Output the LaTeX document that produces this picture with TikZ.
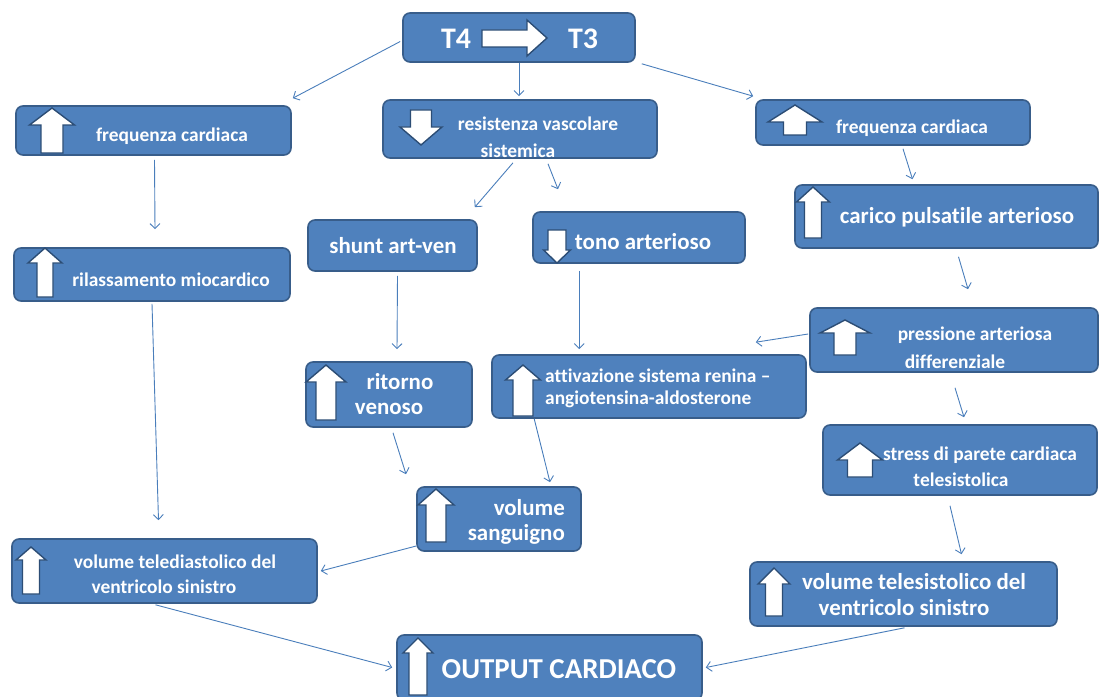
\documentclass[tikz,border=0pt]{standalone}
\usepackage{fontspec}
\setmainfont{Carlito}[Ligatures={NoCommon}]
\usetikzlibrary{arrows.meta,calc,fit}
\definecolor{boxblue}{HTML}{4F81BD}
\definecolor{boxedge}{HTML}{385D8A}
\definecolor{iconedge}{HTML}{2C4D75}
\definecolor{lineblue}{HTML}{4A7EBB}
\tikzset{
  box/.style={draw=boxedge, fill=boxblue, line width=1.6bp, rounded corners=7bp, inner sep=0pt},
  lbl/.style={text=white, font=\bfseries, inner sep=0pt},
  icon/.style={draw=iconedge, fill=white, line width=1.4bp, line join=miter},
  conn/.style={draw=lineblue, line width=0.9bp, -{Straight Barb[length=5bp,width=10bp]}},
}
% up arrow: cx, top, headbase, bottom, headwidth, shaftwidth
\newcommand\UpIcon[6]{\draw[icon] ({#1-#6/2},#4) -- ({#1-#6/2},#3) -- ({#1-#5/2},#3) -- (#1,#2) -- ({#1+#5/2},#3) -- ({#1+#6/2},#3) -- ({#1+#6/2},#4) -- cycle;}
% down arrow: cx, top, headbase, tip, headwidth, shaftwidth
\newcommand\DownIcon[6]{\draw[icon] ({#1-#6/2},#2) -- ({#1-#6/2},#3) -- ({#1-#5/2},#3) -- (#1,#4) -- ({#1+#5/2},#3) -- ({#1+#6/2},#3) -- ({#1+#6/2},#2) -- cycle;}
\newcommand\fs[1]{\fontsize{#1}{#1}\selectfont}
\tikzset{
  small/.style={lbl, font=\bfseries\fs{19.5}},
  large/.style={lbl, font=\bfseries\fs{23}},
}
\begin{document}
\begin{tikzpicture}[x=1bp,y=-1bp]
\useasboundingbox (0,0) rectangle (1101,697);
% boxes
\node[box, fit={(403,13) (635,62)}] (t4) {};
\node[box, fit={(16,106) (291,155)}] (fl) {};
\node[box, fit={(383,100) (657,158)}] (rv) {};
\node[box, fit={(756,100) (1030,145)}] (fr) {};
\node[box, fit={(795,185) (1098,248)}] (cp) {};
\node[box, fit={(308,220) (477,271)}] (sh) {};
\node[box, fit={(533,212) (745,263)}] (to) {};
\node[box, fit={(14,248) (290,301)}] (ri) {};
\node[box, fit={(810,308) (1098,372)}] (pa) {};
\node[box, fit={(306,362) (472,427)}] (rt) {};
\node[box, fit={(492,355) (806,418)}] (at) {};
\node[box, fit={(823,425) (1097,495)}] (st) {};
\node[box, fit={(417,487) (581,551)}] (vs) {};
\node[box, fit={(12,539) (317,603)}] (td) {};
\node[box, fit={(750,562) (1057,626)}] (ts) {};
\node[box, fit={(397,635) (702,700)}] (oc) {};
% icons
\draw[icon] (482,30) -- (527,30) -- (527,20) -- (547,38) -- (527,56) -- (527,47) -- (482,47) -- cycle;
\UpIcon{52}{108}{125}{153}{45}{22}
\DownIcon{421}{110}{127}{145}{42}{21}
\UpIcon{795}{105}{122}{135}{54}{23}
\UpIcon{813}{187}{202}{238}{33}{17}
\DownIcon{557}{230}{250}{263}{27}{18}
\UpIcon{45}{248}{263}{297}{34}{16}
\UpIcon{845}{320}{333}{355}{50}{22}
\UpIcon{326}{365}{382}{420}{40}{20}
\UpIcon{523}{365}{380}{416}{35}{20}
\UpIcon{860}{443}{460}{477}{45}{25}
\UpIcon{436}{489}{505}{542}{36}{20}
\UpIcon{31}{547}{560}{594}{30}{17}
\UpIcon{774}{568}{584}{616}{32}{17}
\UpIcon{418}{638}{653}{695}{30}{18}
% labels
\node[lbl, font=\bfseries\fs{30}] (t4a) at (456,39) {T4};
\node[lbl, font=\bfseries\fs{30}] (t4b) at (583,39) {T3};
\node[small] (fla) at (172,136) {frequenza cardiaca};
\node[small] (rva) at (538,124) {resistenza vascolare};
\node[small] (rvb) at (518,151) {sistemica};
\node[small] (fra) at (912,128) {frequenza cardiaca};
\node[large] (cpa) at (957,217) {carico pulsatile arterioso};
\node[large] (sha) at (393,246) {shunt art-ven};
\node[large] (toa) at (643,242) {tono arterioso};
\node[small] (ria) at (171,280) {rilassamento miocardico};
\node[small] (paa) at (975,335) {pressione arteriosa};
\node[small] (pab) at (955,362) {differenziale};
\node[large] (rta) at (400,382) {ritorno};
\node[large] (rtb) at (389,409) {venoso};
\node[small, anchor=west] (ata) at (545,376) {attivazione sistema renina –};
\node[small, anchor=west] (atb) at (545,399) {angiotensina-aldosterone};
\node[small] (sta) at (980,455) {stress di parete cardiaca};
\node[small] (stb) at (961,480) {telesistolica};
\node[large, anchor=east] (vsa) at (565,508) {volume};
\node[large, anchor=east] (vsb) at (565,534) {sanguigno};
\node[small] (tda) at (175,562) {volume telediastolico del};
\node[small] (tdb) at (164,587) {ventricolo sinistro};
\node[large] (tsa) at (914,582) {volume telesistolico del};
\node[large] (tsb) at (904,608) {ventricolo sinistro};
\node[lbl, font=\bfseries\fs{29}] (oca) at (559,669) {OUTPUT CARDIACO};
% connectors
\draw[conn] ($(t4.west)+(-2,4)$) -- ($(fl.north east)+(1,-7)$);
\draw[conn] (t4.south) -- ($(rv.north)+(-1,-3)$);
\draw[conn] ($(t4.south east)+(6,1)$) -- ($(fr.north west)+(-2,-3)$);
\draw[conn] ($(fl.south)+(1,4)$) -- ($(ri.north)+(3,-18)$);
\draw[conn] ($(rv.south)+(-7,4)$) -- ($(sh.north east)+(-3,-12)$);
\draw[conn] ($(rv.south)+(28,5)$) -- ($(to.north)+(-81,-22)$);
\draw[conn] ($(fr.south)+(10,3)$) -- ($(cp.north)+(-34,-5)$);
\draw[conn] ($(cp.south)+(12,8)$) -- ($(pa.north)+(14,-18)$);
\draw[conn] ($(pa.west)+(-1,-6)$) -- ($(at.north east)+(-51,-12)$);
\draw[conn] ($(pa.south)+(1,15)$) -- ($(st.north)+(4,-7)$);
\draw[conn] ($(st.south)+(-10,10)$) -- ($(ts.north)+(58,-7)$);
\draw[conn] ($(sh.south)+(5,4)$) -- ($(rt.north)+(8,-12)$);
\draw[conn] ($(to.south west)+(47,7)$) -- ($(at.north west)+(88,-5)$);
\draw[conn] ($(ri.south)+(0,2)$) -- ($(td.north)+(-6,-18)$);
\draw[conn] ($(rt.south)+(4,5)$) -- ($(vs.north)+(-93,-12)$);
\draw[conn] ($(at.south west)+(43,0)$) -- ($(vs.north)+(51,-4)$);
\draw[conn] ($(vs.west)+(0,27)$) -- ($(td.east)+(3,0)$);
\draw[conn] ($(td.south)+(-9,1)$) -- ($(oc.west)+(-4,0)$);
\draw[conn] ($(ts.south)+(1,1)$) -- ($(oc.east)+(3,0)$);
\end{tikzpicture}
\end{document}
